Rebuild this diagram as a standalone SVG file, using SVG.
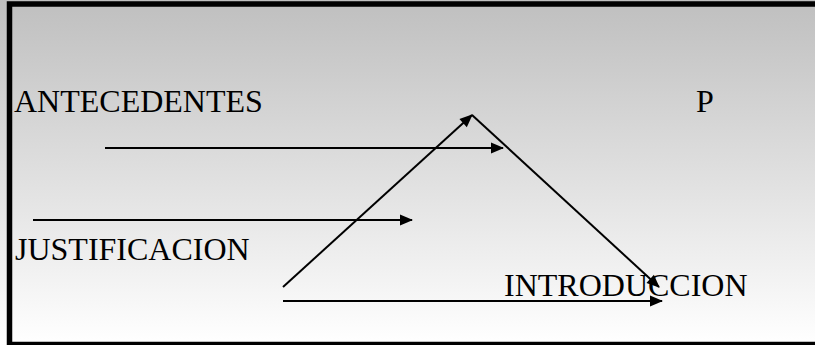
<svg xmlns="http://www.w3.org/2000/svg" width="815" height="345" viewBox="0 0 815 345">
  <defs>
    <linearGradient id="bg" x1="0" y1="0" x2="0" y2="1">
      <stop offset="0" stop-color="#bfbfbf"/>
      <stop offset="1" stop-color="#ffffff"/>
    </linearGradient>
    <marker id="arr" markerUnits="userSpaceOnUse" markerWidth="13" markerHeight="11" refX="12" refY="5.5" orient="auto" overflow="visible">
      <path d="M0,0 L13,5.5 L0,11 z" fill="#000"/>
    </marker>
  </defs>
  <style>
    .lbl { font-family: "Liberation Serif", "Times New Roman", serif; font-size: 32px; fill: #000; }
    .con { stroke: #000; stroke-width: 2; fill: none; marker-end: url(#arr); }
  </style>
  <rect x="0" y="0" width="815" height="345" fill="url(#bg)"/>
  <rect x="9.5" y="4" width="830" height="340.5" fill="none" stroke="#000" stroke-width="5.5"/>
  <g id="antecedentes"><text class="lbl" x="14" y="112">ANTECEDENTES</text></g>
  <g id="p"><text class="lbl" x="696" y="112">P</text></g>
  <g id="justificacion"><text class="lbl" x="15" y="260">JUSTIFICACION</text></g>
  <g id="introduccion"><text class="lbl" x="504" y="296">INTRODUCCION</text></g>
  <g id="connectors">
    <line class="con" x1="105" y1="148" x2="503" y2="148"/>
    <line class="con" x1="33" y1="220" x2="412" y2="220"/>
    <line class="con" x1="283" y1="287" x2="472" y2="115"/>
    <line class="con" x1="472" y1="115" x2="659" y2="287"/>
    <line class="con" x1="283" y1="301" x2="662" y2="301"/>
  </g>
</svg>
